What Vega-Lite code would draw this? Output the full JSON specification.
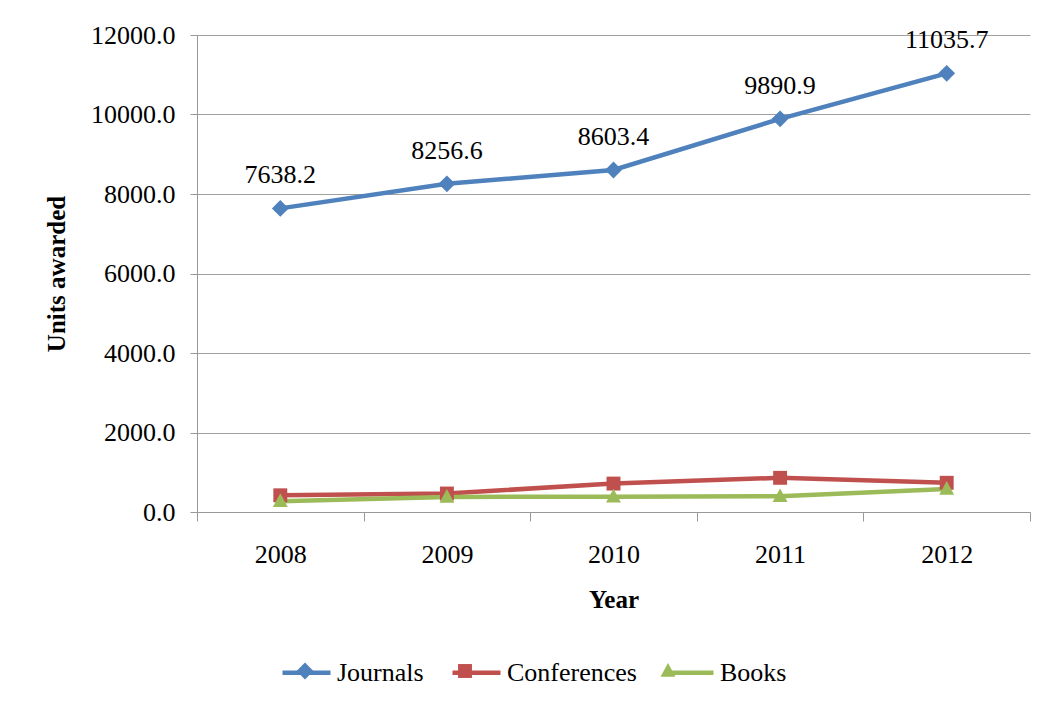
{
  "$schema": "https://vega.github.io/schema/vega-lite/v6.json",
  "width": 833,
  "height": 477,
  "autosize": {"type": "none"},
  "padding": {"left": 197, "top": 35, "right": 15, "bottom": 189},
  "background": "white",
  "config": {
    "view": {"stroke": null},
    "font": "Times New Roman",
    "axis": {
      "labelFont": "Times New Roman",
      "titleFont": "Times New Roman",
      "labelColor": "black",
      "titleColor": "black",
      "domainColor": "#999999",
      "tickColor": "#999999",
      "gridColor": "#a0a0a0",
      "domainWidth": 1,
      "tickWidth": 1
    },
    "legend": {
      "labelFont": "Times New Roman"
    }
  },
  "resolve": {"scale": {"color": "independent", "shape": "independent"}},
  "data": {
    "values": [
      {"year": "2008", "series": "Journals", "value": 7638.2},
      {"year": "2009", "series": "Journals", "value": 8256.6},
      {"year": "2010", "series": "Journals", "value": 8603.4},
      {"year": "2011", "series": "Journals", "value": 9890.9},
      {"year": "2012", "series": "Journals", "value": 11035.7},
      {"year": "2008", "series": "Conferences", "value": 420},
      {"year": "2009", "series": "Conferences", "value": 465},
      {"year": "2010", "series": "Conferences", "value": 715},
      {"year": "2011", "series": "Conferences", "value": 860},
      {"year": "2012", "series": "Conferences", "value": 735},
      {"year": "2008", "series": "Books", "value": 270},
      {"year": "2009", "series": "Books", "value": 380},
      {"year": "2010", "series": "Books", "value": 385},
      {"year": "2011", "series": "Books", "value": 395},
      {"year": "2012", "series": "Books", "value": 580}
    ]
  },
  "encoding": {
    "x": {
      "field": "year",
      "type": "ordinal",
      "scale": {"type": "band", "paddingInner": 0, "paddingOuter": 0},
      "axis": {
        "labelAngle": 0,
        "labelFontSize": 26,
        "labelPadding": 20,
        "tickSize": 9,
        "tickBand": "extent",
        "grid": false,
        "title": "Year",
        "titleFontSize": 25,
        "titleFontWeight": "bold",
        "titlePadding": 20
      }
    },
    "y": {
      "field": "value",
      "type": "quantitative",
      "scale": {"domain": [0, 12000], "nice": false},
      "axis": {
        "values": [0, 2000, 4000, 6000, 8000, 10000, 12000],
        "format": ".1f",
        "labelFontSize": 26,
        "labelPadding": 15,
        "tickSize": 7,
        "grid": true,
        "title": "Units awarded",
        "titleFontSize": 25,
        "titleFontWeight": "bold",
        "titlePadding": 21
      }
    }
  },
  "layer": [
    {
      "mark": {"type": "line", "strokeWidth": 4.5},
      "encoding": {
        "color": {
          "field": "series",
          "type": "nominal",
          "scale": {"domain": ["Journals", "Conferences", "Books"], "range": ["#4F81BD", "#C0504D", "#9BBB59"]},
          "legend": {
            "orient": "none",
            "legendX": 83,
            "legendY": 611,
            "direction": "horizontal",
            "title": null,
            "padding": 0,
            "symbolType": "stroke",
            "symbolSize": 2304,
            "symbolStrokeWidth": 4.5,
            "labelFontSize": 26,
            "labelColor": "black",
            "labelOffset": 4,
            "columnPadding": 19,
            "labelLimit": 300
          }
        }
      }
    },
    {
      "mark": {"type": "point", "filled": true, "opacity": 1, "size": 2304},
      "encoding": {
        "color": {
          "field": "series",
          "type": "nominal",
          "scale": {"domain": ["Journals", "Conferences", "Books"], "range": ["#4F81BD", "#C0504D", "#9BBB59"]},
          "legend": {
            "orient": "none",
            "legendX": 83,
            "legendY": 611,
            "direction": "horizontal",
            "title": null,
            "padding": 0,
            "symbolSize": 2304,
            "symbolOpacity": 1,
            "labelFontSize": 26,
            "labelColor": "black",
            "labelOpacity": 0,
            "labelOffset": 4,
            "columnPadding": 19,
            "labelLimit": 300
          }
        },
        "shape": {
          "field": "series",
          "type": "nominal",
          "scale": {
            "domain": ["Journals", "Conferences", "Books"],
            "range": ["M0,-0.35L0.35,0L0,0.35L-0.35,0Z", "M-0.29,-0.29H0.29V0.29H-0.29Z", "M0,-0.33L0.31,0.24L-0.31,0.24Z"]
          },
          "legend": {
            "orient": "none",
            "legendX": 83,
            "legendY": 611,
            "direction": "horizontal",
            "title": null,
            "padding": 0,
            "symbolSize": 2304,
            "symbolOpacity": 1,
            "labelFontSize": 26,
            "labelColor": "black",
            "labelOpacity": 0,
            "labelOffset": 4,
            "columnPadding": 19,
            "labelLimit": 300
          }
        }
      }
    },
    {
      "transform": [{"filter": "datum.series === 'Journals'"}],
      "mark": {"type": "text", "dy": -33, "fontSize": 26, "font": "Times New Roman", "color": "black"},
      "encoding": {
        "text": {"field": "value", "type": "quantitative", "format": ".1f"}
      }
    }
  ]
}
